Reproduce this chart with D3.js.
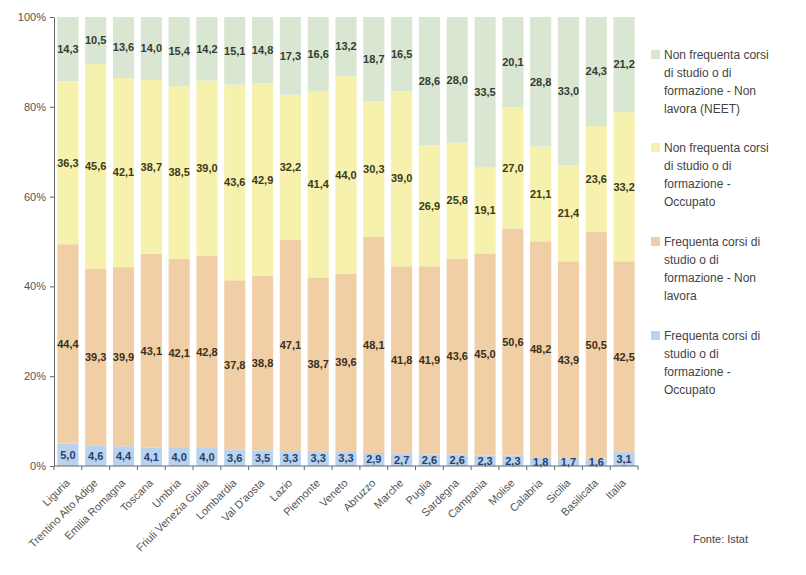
<!DOCTYPE html>
<html>
<head>
<meta charset="utf-8">
<script src="https://cdn.jsdelivr.net/npm/d3@7"></script>
<style>
  body { margin: 0; background: #fff; font-family: "Liberation Sans", Arial, sans-serif; }
  .axis text { fill: #555; font-size: 11px; }
  .axis path, .axis line { stroke: #666; }
</style>
</head>
<body>
<div id="chart-area"></div>
<script>
// Data
const regions = ["Liguria", "Trentino Alto Adige", "Emilia Romagna", "Toscana", "Umbria",
    "Friuli Venezia Giulia", "Lombardia", "Val D'aosta", "Lazio", "Piemonte", "Veneto",
    "Abruzzo", "Marche", "Puglia", "Sardegna", "Campania", "Molise", "Calabria", "Sicilia",
    "Basilicata", "Italia"];

const studyWork = [5.0, 4.6, 4.4, 4.1, 4.0, 4.0, 3.6, 3.5, 3.3, 3.3, 3.3, 2.9, 2.7, 2.6, 2.6, 2.3, 2.3, 1.8, 1.7, 1.6, 3.1];
const studyNoWork = [44.4, 39.3, 39.9, 43.1, 42.1, 42.8, 37.8, 38.8, 47.1, 38.7, 39.6, 48.1, 41.8, 41.9, 43.6, 45.0, 50.6, 48.2, 43.9, 50.5, 42.5];
const noStudyWork = [36.3, 45.6, 42.1, 38.7, 38.5, 39.0, 43.6, 42.9, 32.2, 41.4, 44.0, 30.3, 39.0, 26.9, 25.8, 19.1, 27.0, 21.1, 21.4, 23.6, 33.2];
const neet = [14.3, 10.5, 13.6, 14.0, 15.4, 14.2, 15.1, 14.8, 17.3, 16.6, 13.2, 18.7, 16.5, 28.6, 28.0, 33.5, 20.1, 28.8, 33.0, 24.3, 21.2];

const seriesKeys = ["studyWork", "studyNoWork", "noStudyWork", "neet"];
const seriesNames = [
    "Frequenta corsi di studio o di formazione - Occupato",
    "Frequenta corsi di studio o di formazione - Non lavora",
    "Non frequenta corsi di studio o di formazione - Occupato",
    "Non frequenta corsi di studio o di formazione - Non lavora (NEET)"
];
const legendLines = [
    ["Frequenta corsi di", "studio o di", "formazione -", "Occupato"],
    ["Frequenta corsi di", "studio o di", "formazione - Non", "lavora"],
    ["Non frequenta corsi", "di studio o di", "formazione -", "Occupato"],
    ["Non frequenta corsi", "di studio o di", "formazione - Non", "lavora (NEET)"]
];
const colors = ["#b9d3ee", "#f1cfa6", "#f6f1ad", "#d9e6d1"];
const labelColors = ["#26406e", "#3a3020", "#3a3a20", "#333d33"];
const yTicks = [0, 0.2, 0.4, 0.6, 0.8, 1];

const tableData = regions.map((r, i) => ({
    region: r,
    studyWork: studyWork[i],
    studyNoWork: studyNoWork[i],
    noStudyWork: noStudyWork[i],
    neet: neet[i]
}));

const W = 806, H = 575;
const margin = { left: 54, top: 17, right: 168, bottom: 109 };
const width = 638 - margin.left,
    height = 466 - margin.top;

const svg = d3.select("#chart-area").append("svg")
    .attr("width", W)
    .attr("height", H);

const g = svg.append("g")
    .attr("transform", "translate(" + margin.left + "," + margin.top + ")");

const x = d3.scaleBand().domain(regions).range([0, width]).paddingInner(0.24).paddingOuter(0.12);
const y = d3.scaleLinear().domain([0, 1]).range([height, 0]);

const stack = d3.stack().keys(seriesKeys).offset(d3.stackOffsetExpand);
const stacked = stack(tableData);

// Bars
const layers = g.selectAll(".layer")
    .data(stacked)
    .enter().append("g")
    .attr("class", "layer")
    .attr("fill", (d, i) => colors[i]);

layers.selectAll("rect")
    .data(d => d)
    .enter().append("rect")
    .attr("x", d => x(d.data.region))
    .attr("y", d => y(d[1]))
    .attr("width", x.bandwidth())
    .attr("height", d => y(d[0]) - y(d[1]));

// Value labels
stacked.forEach((layer, li) => {
    g.append("g").selectAll("text")
        .data(layer)
        .enter().append("text")
        .attr("x", d => x(d.data.region) + x.bandwidth() / 2)
        .attr("y", d => y((d[0] + d[1]) / 2))
        .attr("dy", "0.35em")
        .attr("text-anchor", "middle")
        .attr("font-size", "11px")
        .attr("font-weight", "bold")
        .attr("fill", labelColors[li])
        .text(d => d3.format(".1f")(d.data[layer.key]).replace(".", ","));
});

// Axes
const yAxis = g.append("g")
    .attr("class", "axis")
    .call(d3.axisLeft(y).tickValues(yTicks).tickFormat(d3.format(".0%")).tickSize(4).tickSizeOuter(0));
yAxis.selectAll("text").attr("dx", "-1");

const xAxis = g.append("g")
    .attr("class", "axis")
    .attr("transform", "translate(0," + height + ")")
    .call(d3.axisBottom(x).tickSize(4).tickSizeOuter(0));

// tick marks on band boundaries
xAxis.selectAll(".tick line").remove();
const step = x.step();
const bounds = d3.range(regions.length + 1).map(i => x(regions[0]) - x.step() * x.paddingInner() / 2 + i * step);
xAxis.selectAll(".bound")
    .data(bounds)
    .enter().append("line")
    .attr("x1", d => d).attr("x2", d => d)
    .attr("y1", 0).attr("y2", 4)
    .attr("stroke", "#666");
xAxis.select(".domain").attr("d", "M0,0H" + width);

xAxis.selectAll(".tick text")
    .attr("font-size", "10px")
    .attr("text-anchor", "end")
    .attr("transform", "translate(-3,12) rotate(-45)")
    .attr("dy", "0.35em")
    .attr("y", 4)
    .attr("x", 0);

// Legend
const legend = svg.append("g").attr("transform", "translate(651,0)");
const legendTops = [336, 242, 148, 55];
seriesNames.forEach((name, i) => {
    const lg = legend.append("g").attr("transform", "translate(0," + legendTops[i] + ")");
    lg.append("rect")
        .attr("x", 0).attr("y", -5)
        .attr("width", 9).attr("height", 9)
        .attr("fill", colors[i]);
    legendLines[i].forEach((line, j) => {
        lg.append("text")
            .attr("x", 13)
            .attr("y", j * 18)
            .attr("dy", "0.35em")
            .attr("font-size", "12px")
            .attr("fill", "#444")
            .text(line);
    });
});

// Source
svg.append("text")
    .attr("x", 693)
    .attr("y", 543)
    .attr("font-size", "11px")
    .attr("fill", "#444")
    .text("Fonte: Istat");
</script>
</body>
</html>
